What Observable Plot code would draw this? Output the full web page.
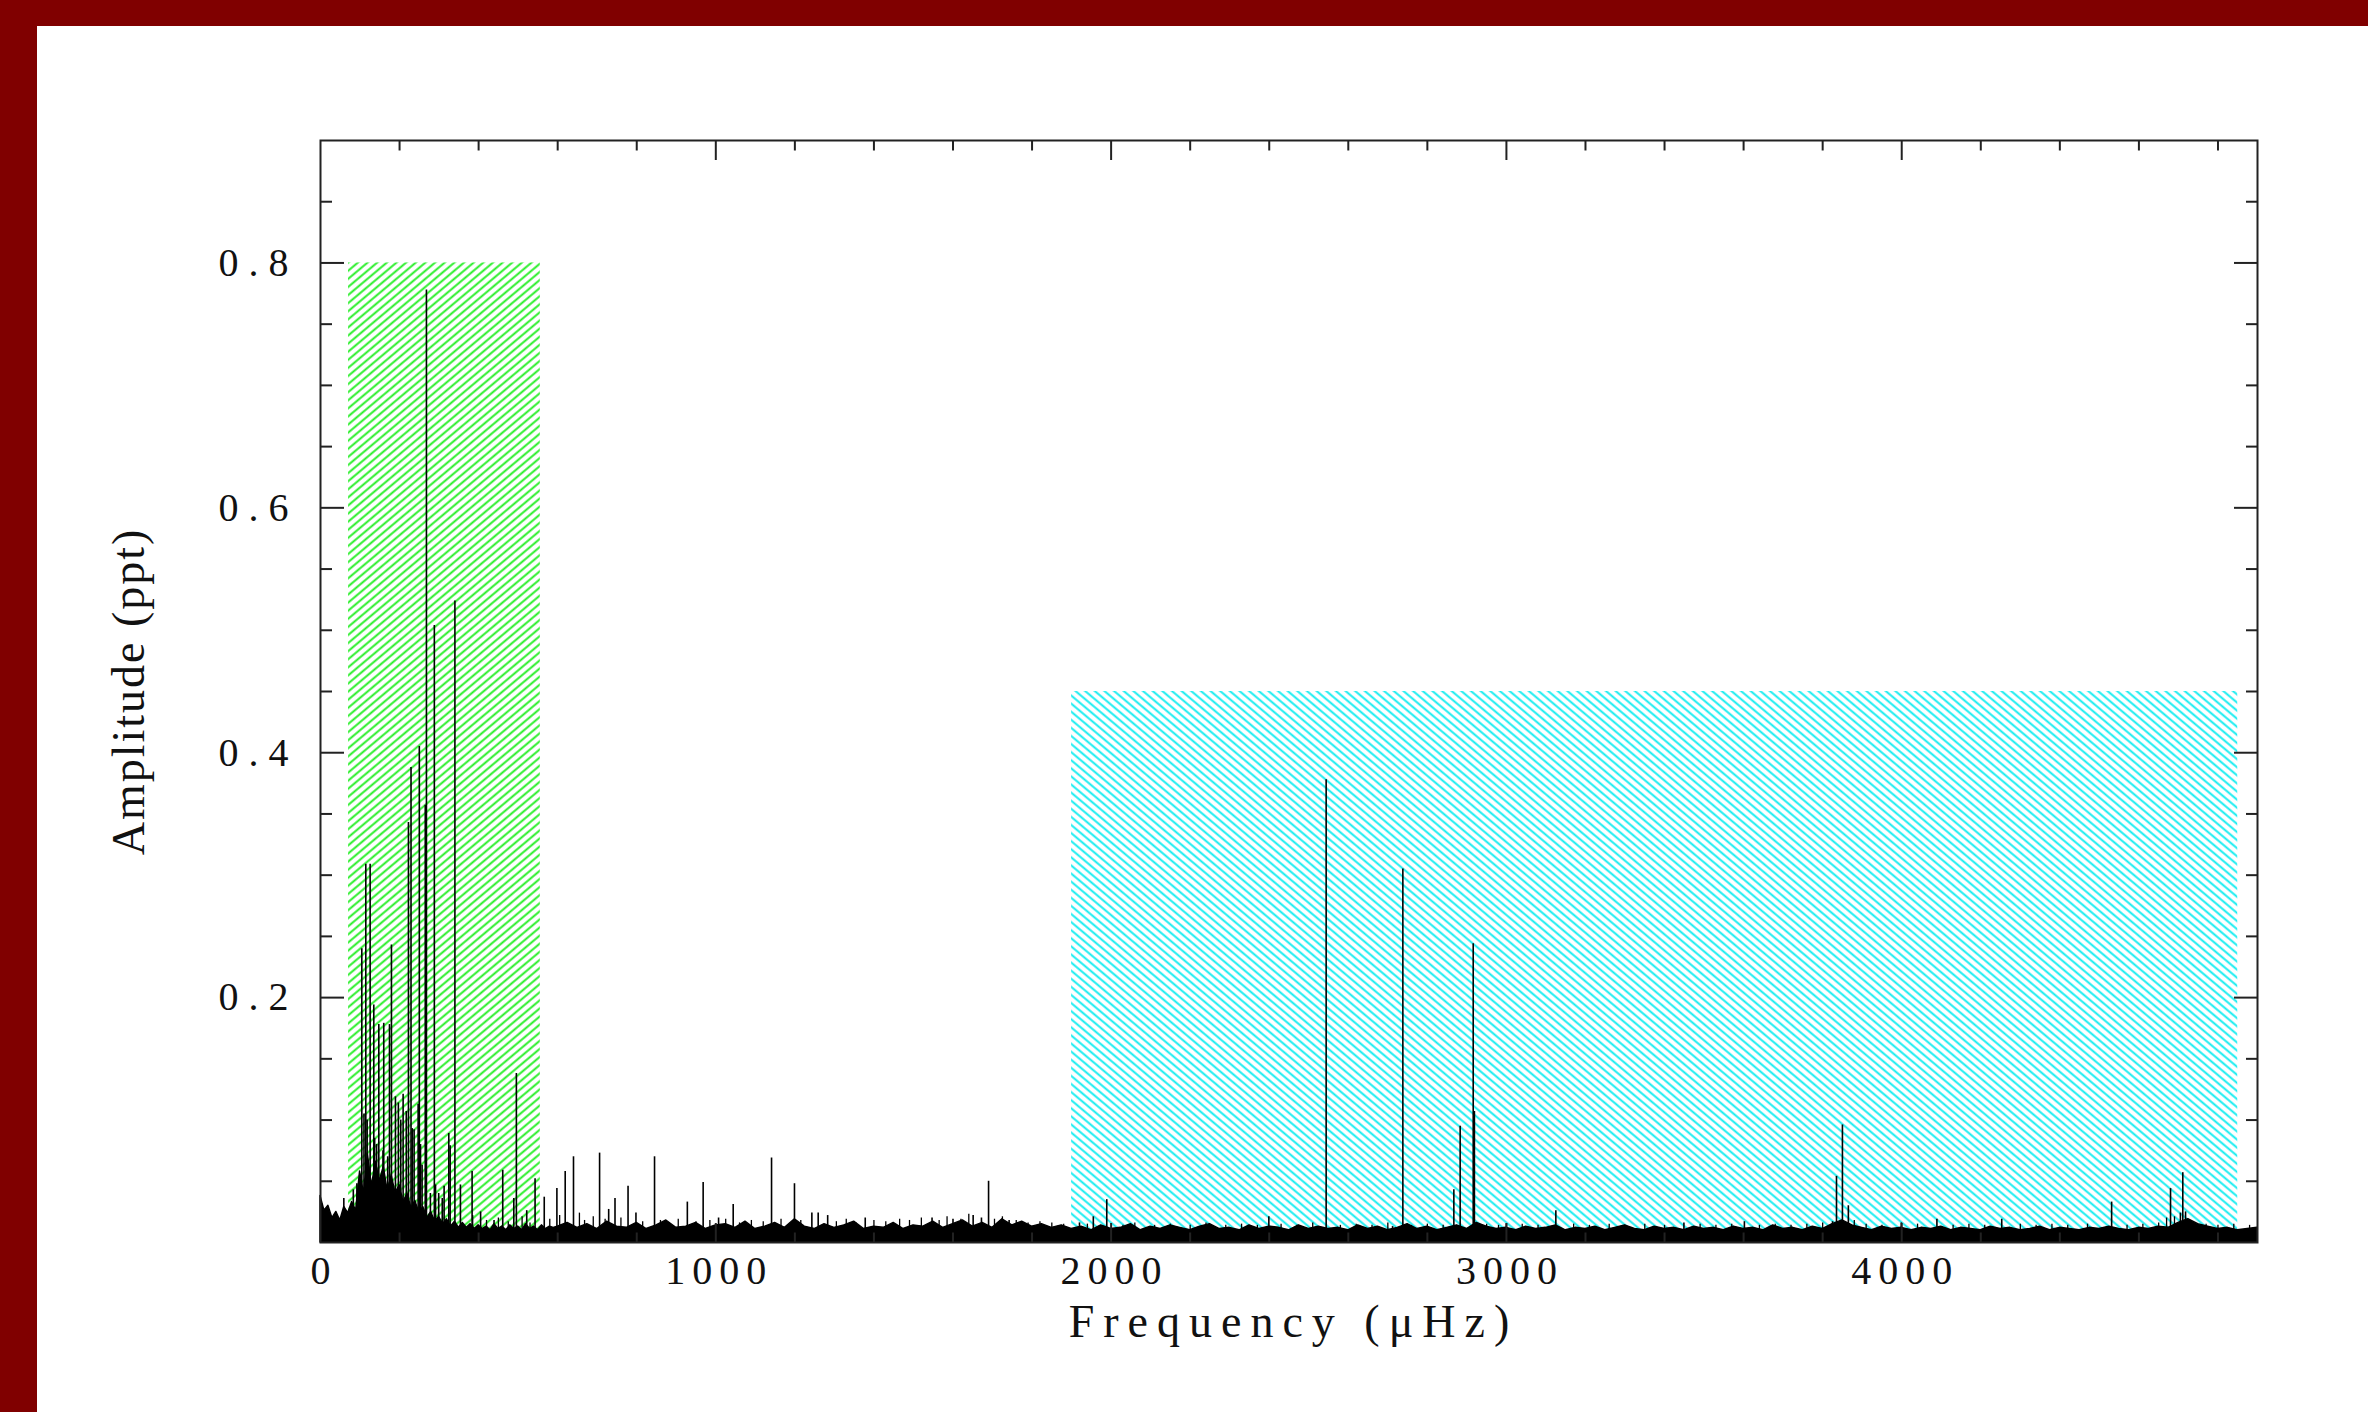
<!DOCTYPE html>
<html><head><meta charset="utf-8">
<script src="https://cdn.jsdelivr.net/npm/d3@7"></script>
<script src="https://cdn.jsdelivr.net/npm/@observablehq/plot@0.6"></script>
<style>
html,body{margin:0;padding:0;background:#800000;width:2368px;height:1412px;overflow:hidden}
#page{position:absolute;left:37px;top:26px;width:2331px;height:1386px;background:#fff}
</style></head><body><div id="page"></div>
<script>
// ---- tick values ----
const xLabelTicks = [0, 1000, 2000, 3000, 4000];
const xMajorTicks = [1000, 2000, 3000, 4000];
const xMinorTicks = [200, 400, 600, 800, 1200, 1400, 1600, 1800, 2200, 2400, 2600, 2800, 3200, 3400, 3600, 3800, 4200, 4400, 4600, 4800];
const yLabelTicks = [0.2, 0.4, 0.6, 0.8];
const yMinorTicks = [0.05, 0.1, 0.15, 0.25, 0.3, 0.35, 0.45, 0.5, 0.55, 0.65, 0.7, 0.75, 0.85];

// ---- shaded frequency regions ----
const bandFrom = [71, 1900];
const bandTo = [556, 4850];
const bandBottom = [0.008, 0.008];
const bandTop = [0.8, 0.45];

// ---- noise floor (amplitude, ppt) ----
// 0-590 uHz, every 10 uHz
const noiseLow = [.038,.026,.030,.020,.025,.018,.029,.024,.033,.026,.058,.040,.072,.046,.066,.050,.062,.042,.055,.040,
  .047,.033,.040,.028,.034,.024,.029,.020,.025,.017,.021,.015,.019,.013,.017,.012,.016,.012,.015,.011,
  .014,.011,.013,.010,.015,.011,.013,.010,.014,.011,.013,.010,.015,.011,.013,.010,.014,.011,.013,.012];
// 600-4900 uHz, every 25 uHz
const noiseHigh = [.013,.016,.012,.015,.011,.017,.013,.012,.016,.011,.014,.018,.012,.013,.016,.011,.014,
  .015,.012,.017,.011,.013,.016,.012,.019,.013,.011,.015,.012,.014,.017,.011,.013,
  .012,.016,.011,.014,.013,.017,.012,.015,.018,.013,.016,.012,.019,.014,.017,.013,.015,.012,.014,.011,
  .013,.010,.014,.011,.012,.015,.010,.013,.011,.014,.012,.010,.013,.015,.011,.012,.010,.014,.011,.013,.012,.010,.014,.011,
  .013,.011,.012,.010,.014,.011,.013,.010,.012,.015,.011,.013,.010,.012,.014,.011,.016,.013,.011,.012,
  .010,.013,.011,.012,.014,.010,.012,.011,.013,.010,.012,.014,.011,.010,.013,.011,.012,.010,.013,.011,
  .012,.010,.013,.011,.012,.010,.014,.011,.012,.010,.013,.011,.015,.018,.014,.012,.010,.013,.011,.012,
  .010,.012,.011,.013,.010,.012,.011,.010,.013,.011,.012,.010,.011,.013,.010,.012,.011,.010,.012,.011,
  .013,.011,.010,.012,.011,.013,.012,.016,.019,.015,.013,.011,.012,.010,.011,.012];

// ---- peaks [frequency uHz, amplitude ppt] ----
const lowPeaks = [[59,.036],[83,.043],[92,.048],[104.5,.240],[110,.105],[114.6,.309],[118,.100],[125.6,.309],[134.8,.194],
  [137,.085],[142,.080],[147.5,.178],[158,.075],[160,.179],[170,.070],[174.5,.178],[179.5,.243],[189.6,.119],
  [197,.114],[203,.100],[209,.121],[217,.107],[222.5,.343],[229,.388],[232,.093],[236.8,.092],[247,.113],
  [250,.405],[253,.080],[257,.063],[265,.357],[268,.778],[278,.040],[288,.504],[291,.047],[299,.040],
  [308,.036],[312.7,.046],[324.5,.089],[328,.079],[340,.524],[354,.047],[383.5,.058],[405,.025],[439,.018],
  [461,.059],[489,.036],[495.5,.138],[521.7,.026],[542.8,.052],[566,.037],[598,.044]];
const midPeaks = [[619,.058],[640,.070],[706,.073],[729,.027],[745,.036],[778,.046],[798,.024],[845,.070],
  [928,.033],[968,.049],[1007,.020],[1044,.031],[1141,.069],[1199,.048],[1243,.024],[1259,.024],[1283,.022],
  [1378,.020],[1547,.020],[1600,.019],[1651,.022],[1672,.020],[1690,.050],[1742,.018]];
const highPeaks = [[1920,.016],[1955,.021],[1989,.035],[2399,.021],[2544,.378],[2712,.013],[2738,.305],
  [2867,.043],[2883,.095],[2916,.244],[2919,.107],[3000,.015],[3125,.026],[3449,.016],[3602,.017],
  [3825,.017],[3835,.054],[3850,.096],[3865,.030],[3999,.016],[4089,.019],[4253,.019],[4531,.033],
  [4680,.044],[4705,.024],[4711,.057],[4718,.025],[4747,.013]];
// small spikes riding on the noise floor
const minorPeaks = [[385,.022],[420,.018],[450,.020],[475,.017],[510,.021],[530,.016],[580,.019],[605,.022],[655,.024],
  [668,.018],[690,.021],[720,.019],[760,.020],[815,.017],[860,.018],[880,.016],[905,.019],[950,.017],[985,.018],
  [1025,.019],[1060,.016],[1090,.018],[1120,.017],[1165,.019],[1215,.018],[1305,.017],[1330,.019],[1355,.016],
  [1400,.018],[1430,.017],[1465,.019],[1490,.018],[1520,.020],[1565,.018],[1585,.021],[1620,.019],[1640,.023],
  [1705,.019],[1725,.021],[1760,.018],[1790,.016],[1820,.017],[1850,.016],[1880,.015],
  [1940,.015],[2030,.014],[2060,.016],[2110,.014],[2150,.015],[2200,.014],[2240,.016],[2290,.014],[2330,.015],
  [2370,.014],[2430,.015],[2470,.014],[2510,.016],[2580,.014],[2620,.015],[2660,.014],[2700,.016],[2760,.014],
  [2800,.015],[2840,.014],[2950,.015],[2980,.014],[3040,.015],[3080,.014],[3170,.015],[3210,.014],[3260,.015],
  [3300,.014],[3350,.015],[3400,.014],[3490,.015],[3530,.014],[3570,.015],[3640,.014],[3680,.015],[3720,.014],
  [3760,.015],[3800,.016],[3880,.018],[3910,.015],[3950,.014],[4040,.015],[4130,.014],[4170,.015],[4210,.014],
  [4300,.015],[4340,.014],[4380,.015],[4420,.014],[4470,.015],[4570,.014],[4610,.015],[4650,.016],[4670,.020],
  [4690,.021],[4730,.018],[4770,.015],[4800,.014],[4840,.015],[4880,.014]];

const xTitle = "Frequency (\u03bcHz)";
const yTitle = "Amplitude (ppt)";

// ---- tables built from arrays ----
const bands = bandFrom.map((f, i) => ({from: f, to: bandTo[i], bottom: bandBottom[i], top: bandTop[i]}));
const noise = [
  ...noiseLow.map((a, i) => ({f: i * 10, a})),
  ...noiseHigh.map((a, i) => ({f: 600 + i * 25, a}))
];
const peaks = [...lowPeaks, ...midPeaks, ...highPeaks].map(([f, a]) => ({f, a}));
const spikes = minorPeaks.map(([f, a]) => ({f, a}));

const axisInk = "#222";
const tickAxis = (anchor, data, size) =>
  (anchor === "bottom" || anchor === "top" ? Plot.axisX : Plot.axisY)(data, {
    anchor, tickSize: -size, fill: "none", label: null, stroke: axisInk, strokeWidth: 2
  });

const svg = Plot.plot({
  width: 2331, height: 1386,
  marginLeft: 283, marginRight: 111, marginTop: 114, marginBottom: 170,
  x: {domain: [0, 4900]},
  y: {domain: [0, 0.9]},
  style: {fontFamily: "'Liberation Serif', serif", background: "transparent", color: "#111", overflow: "visible"},
  marks: [
    Plot.rect([bands[0]], {x1: "from", x2: "to", y1: "bottom", y2: "top", fill: "url(#hatchGreen)"}),
    Plot.rect([bands[1]], {x1: "from", x2: "to", y1: "bottom", y2: "top", fill: "url(#hatchCyan)"}),
    Plot.areaY(noise, {x: "f", y: "a", fill: "#000", stroke: "#000", strokeWidth: 1.4}),
    Plot.ruleX(spikes, {x: "f", y1: 0, y2: "a", stroke: "#000", strokeWidth: 1.3}),
    Plot.ruleX(peaks, {x: "f", y1: 0, y2: "a", stroke: "#000", strokeWidth: 1.6}),
    Plot.frame({stroke: axisInk, strokeWidth: 2}),
    tickAxis("bottom", xMajorTicks, 19), tickAxis("bottom", xMinorTicks, 9.5),
    tickAxis("top", xMajorTicks, 19), tickAxis("top", xMinorTicks, 9.5),
    tickAxis("left", yLabelTicks, 24), tickAxis("left", yMinorTicks, 12),
    tickAxis("right", yLabelTicks, 24), tickAxis("right", yMinorTicks, 12),
    Plot.axisX(xLabelTicks, {anchor: "bottom", tickSize: 0, tickPadding: 13, tickFormat: d => String(d), fontSize: 40, label: null, fill: "#111"}),
    Plot.axisY(yLabelTicks, {anchor: "left", tickSize: 0, tickPadding: 22, tickFormat: d3.format(".1f"), fontSize: 40, label: null, fill: "#111"}),
    Plot.text([xTitle], {text: d => d, frameAnchor: "bottom", dy: 80, fontSize: 46, lineAnchor: "middle", textAnchor: "middle", fill: "#111"}),
    Plot.text([yTitle], {text: d => d, frameAnchor: "left", dx: -191, rotate: -90, fontSize: 46, lineAnchor: "middle", textAnchor: "middle", fill: "#111"})
  ]
});

// hatch patterns
const defs = document.createElementNS("http://www.w3.org/2000/svg", "defs");
defs.innerHTML =
  '<pattern id="hatchGreen" patternUnits="userSpaceOnUse" width="12" height="6.2" patternTransform="rotate(-40)">' +
  '<line x1="0" y1="3.1" x2="12" y2="3.1" stroke="#22ee22" stroke-width="1.9"/></pattern>' +
  '<pattern id="hatchCyan" patternUnits="userSpaceOnUse" width="12" height="6.2" patternTransform="rotate(40)">' +
  '<line x1="0" y1="3.1" x2="12" y2="3.1" stroke="#10ecf0" stroke-width="1.9"/></pattern>';
svg.insertBefore(defs, svg.firstChild);

// letter spacing to mimic the wide plotting font
const s = d3.select(svg);
s.selectAll('g[aria-label="x-axis tick label"] text').style("letter-spacing", "7px").attr("dx", 3.5);
s.selectAll('g[aria-label="y-axis tick label"] text').style("letter-spacing", "10px");
s.selectAll("text").filter(function () { return this.textContent === xTitle; }).style("letter-spacing", "9px").attr("dx", 4.5);
s.selectAll("text").filter(function () { return this.textContent === yTitle; }).style("letter-spacing", "2px");

document.getElementById("page").appendChild(svg);
</script>
</body></html>
